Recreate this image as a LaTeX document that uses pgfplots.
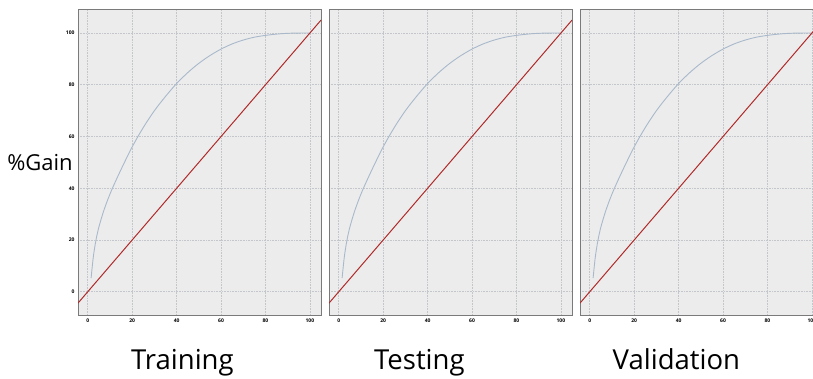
\documentclass[border=0pt]{standalone}
\usepackage{fontspec}
\setmainfont{Open Sans}
\usepackage{pgfplots}
\pgfplotsset{compat=1.18}
\definecolor{bgc}{HTML}{ECECEC}
\definecolor{gridc}{HTML}{C3C6CA}
\definecolor{curvec}{HTML}{A9B9CB}
\definecolor{redc}{HTML}{B02A2A}
\definecolor{framec}{HTML}{7A7A7A}
\pgfplotsset{
  panel/.style={
    scale only axis, width=243pt, height=306pt,
    xmin=-4.4, xmax=105, ymin=-9, ymax=109.3,
    xtick={0,20,...,100}, ytick={0,20,...,100},
    grid=major, major grid style={gridc, dash pattern=on 1pt off 0.6pt, line width=0.6pt},
    axis background/.style={fill=bgc},
    axis line style={framec, line width=0.8pt},
    tick style={draw=none},
    tick label style={font=\fontsize{5}{6}\selectfont\bfseries},
    /pgf/number format/assume math mode=true,
    clip mode=individual,
  },
}
\pgfplotstableread{
x y
1.5 5.3
2.5 13.5
3.7 20
5 25
7 30.8
9 35.6
11.2 40.2
15 47.3
20 56
25 63.5
30 70
35 75.5
40 80.5
45 84.7
50 88.3
55 91.3
60 93.8
65 95.8
70 97.3
75 98.4
80 99.1
85 99.6
90 99.9
95 100
100 100
}\gain
\pgfplotstableread{
x y
-4.4 -4.4
105 105
}\base
\begin{document}
\begin{tikzpicture}
\path[use as bounding box] (0,0) rectangle (813pt,-379pt);
\clip (0,0) rectangle (813pt,-379pt);
\node[font=\fontsize{22}{24}\selectfont] at (40pt,-163pt) {\%Gain};
\begin{axis}[panel, at={(78pt,-315pt)}, anchor=south west]
\addplot[curvec, line width=0.9pt, smooth] table {\gain};
\addplot[redc, line width=1pt] table {\base};
\node[anchor=base, font=\fontsize{27.5}{30}\selectfont] at (axis cs:42.6,-30.1) {Training};
\end{axis}
\begin{axis}[panel, at={(329pt,-315pt)}, anchor=south west, yticklabels={}]
\addplot[curvec, line width=0.9pt, smooth] table {\gain};
\addplot[redc, line width=1pt] table {\base};
\node[anchor=base, font=\fontsize{27.5}{30}\selectfont] at (axis cs:36.3,-30.1) {Testing};
\end{axis}
\begin{axis}[panel, at={(580pt,-315pt)}, anchor=south west, yticklabels={}]
\addplot[curvec, line width=0.9pt, smooth] table {\gain};
\addplot[redc, line width=1pt] table {\base};
\node[anchor=base, font=\fontsize{27.5}{30}\selectfont] at (axis cs:39,-30.1) {Validation};
\end{axis}
\end{tikzpicture}
\end{document}
